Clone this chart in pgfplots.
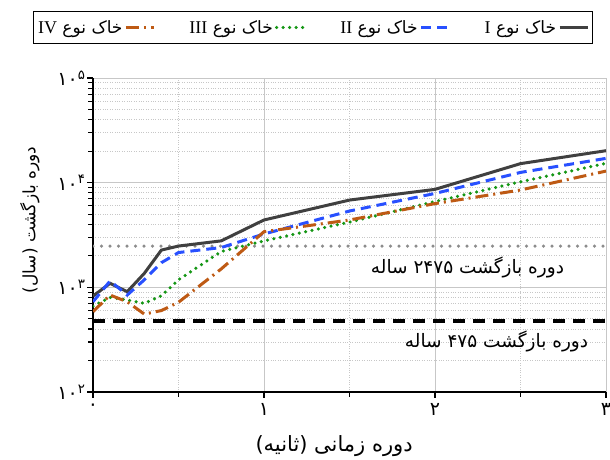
\documentclass[border=0pt]{standalone}
\usepackage{fontspec}
\usepackage{pgfplots}
\usepackage{pgfplotstable}
\pgfplotsset{compat=1.18}
\setmainfont{Liberation Serif}
\newfontfamily\fa[Script=Arabic]{DejaVu Sans}
\TeXXeTstate=1

\definecolor{cI}{HTML}{404040}
\definecolor{cII}{HTML}{2850FF}
\definecolor{cIII}{HTML}{149614}
\definecolor{cIV}{HTML}{BE5A14}
\definecolor{cRef}{HTML}{8C8C8C}

\pgfplotstableread{
x y
0 826
0.1 1092
0.2 908
0.3 1360
0.4 2270
0.5 2480
0.75 2780
1.0 4400
1.5 6820
2.0 8630
2.5 15200
3.0 20200
}\typeI
\pgfplotstableread{
x y
0 728
0.1 1150
0.2 844
0.3 1180
0.4 1720
0.5 2150
0.75 2400
1.0 3235
1.5 5360
2.0 7890
2.5 12530
3.0 17060
}\typeII
\pgfplotstableread{
x y
0 662
0.1 802
0.2 757
0.3 703
0.4 830
0.5 1180
0.75 2200
1.0 2780
1.5 4200
2.0 6600
2.5 10200
3.0 15280
}\typeIII
\pgfplotstableread{
x y
0 585
0.1 844
0.2 728
0.3 555
0.4 600
0.5 720
0.75 1500
1.0 3400
1.5 4400
2.0 6310
2.5 8510
3.0 12900
}\typeIV

\begin{document}
\begin{tikzpicture}
\path[use as bounding box] (0pt,0pt) rectangle (610pt,459pt);
\begin{axis}[
  scale only axis, width=513pt, height=314pt,
  at={(93pt,67pt)}, anchor=south west,
  xmin=0, xmax=3, ymin=100, ymax=100000, ymode=log,
  axis x line*=bottom, axis y line*=left,
  axis line style={line width=1.5pt, black},
  xtick={0,1,2,3},
  xticklabels={\mbox{\fa ۰},\mbox{\fa ۱},\mbox{\fa ۲},\mbox{\fa ۳}},
  minor xtick={0.5,1.5,2.5},
  ytick={100,1000,10000,100000},
  yticklabels={\mbox{\fa ۱۰\textsuperscript{۲}},\mbox{\fa ۱۰\textsuperscript{۳}},\mbox{\fa ۱۰\textsuperscript{۴}},\mbox{\fa ۱۰\textsuperscript{۵}}},
  minor ytick={200,300,400,500,600,700,800,900,2000,3000,4000,5000,6000,7000,8000,9000,20000,30000,40000,50000,60000,70000,80000,90000},
  tick align=outside,
  major tick length=6pt, minor tick length=5pt,
  tick style={black, line width=1.2pt},
  grid=both,
  major grid style={draw=black!22, line width=0.9pt},
  minor grid style={draw=black!22, dotted, line width=0.9pt},
  ticklabel style={font=\fontsize{19}{21}\selectfont},
  yticklabel style={xshift=2pt},
  xticklabel style={yshift=-2pt},
  xlabel={\fa\beginR دوره زمانی (ثانیه)\endR},
  ylabel={\fa\beginR دوره بازگشت (سال)\endR},
  x label style={font=\fontsize{21}{23}\selectfont, at={(axis description cs:0.47,-0.172)}, anchor=center},
  y label style={font=\fontsize{17}{20}\selectfont, at={(axis description cs:-0.123,0.548)}, anchor=center},
  legend columns=4, reverse legend, legend plot pos=right,
  legend style={at={(axis description cs:0.428,1.161)}, anchor=center,
    draw=black, line width=1pt, font=\fa\fontsize{17}{20}\selectfont,
    inner ysep=7pt,
    /tikz/every even column/.append style={column sep=32pt}},
  legend image code/.code={\draw[#1] (0pt,0pt) -- (28pt,0pt);},
]
\addplot[forget plot, cRef, line width=3.5pt, line cap=round, dash pattern=on 0pt off 8.5pt] coordinates {(0,2475) (3,2475)};
\addplot[forget plot, black, line width=3.5pt, dash pattern=on 12pt off 8pt] coordinates {(0,475) (3,475)};
\addplot[cI, line width=3pt] table[x=x,y=y] {\typeI};
\addlegendentry{\beginR خاک نوع {\rmfamily\fontsize{18}{20}\selectfont I}\endR}
\addplot[cII, line width=3pt, dash pattern=on 10pt off 6pt] table[x=x,y=y] {\typeII};
\addlegendentry{\beginR خاک نوع {\rmfamily\fontsize{18}{20}\selectfont II}\endR}
\addplot[cIII, line width=3.5pt, line cap=round, dash pattern=on 0pt off 6.5pt] table[x=x,y=y] {\typeIII};
\addlegendentry{\beginR خاک نوع {\rmfamily\fontsize{18}{20}\selectfont III}\endR}
\addplot[cIV, line width=3pt, dash pattern=on 13pt off 5pt on 2pt off 5pt] table[x=x,y=y] {\typeIV};
\addlegendentry{\beginR خاک نوع {\rmfamily\fontsize{18}{20}\selectfont IV}\endR}
\node[font=\fa\fontsize{18.5}{21}\selectfont, anchor=center] at (axis cs:2.19,1563) {\beginR دوره بازگشت ۲۴۷۵ ساله\endR};
\node[font=\fa\fontsize{18.5}{21}\selectfont, anchor=center] at (axis cs:2.36,307) {\beginR دوره بازگشت ۴۷۵ ساله\endR};
\end{axis}
\end{tikzpicture}
\end{document}
